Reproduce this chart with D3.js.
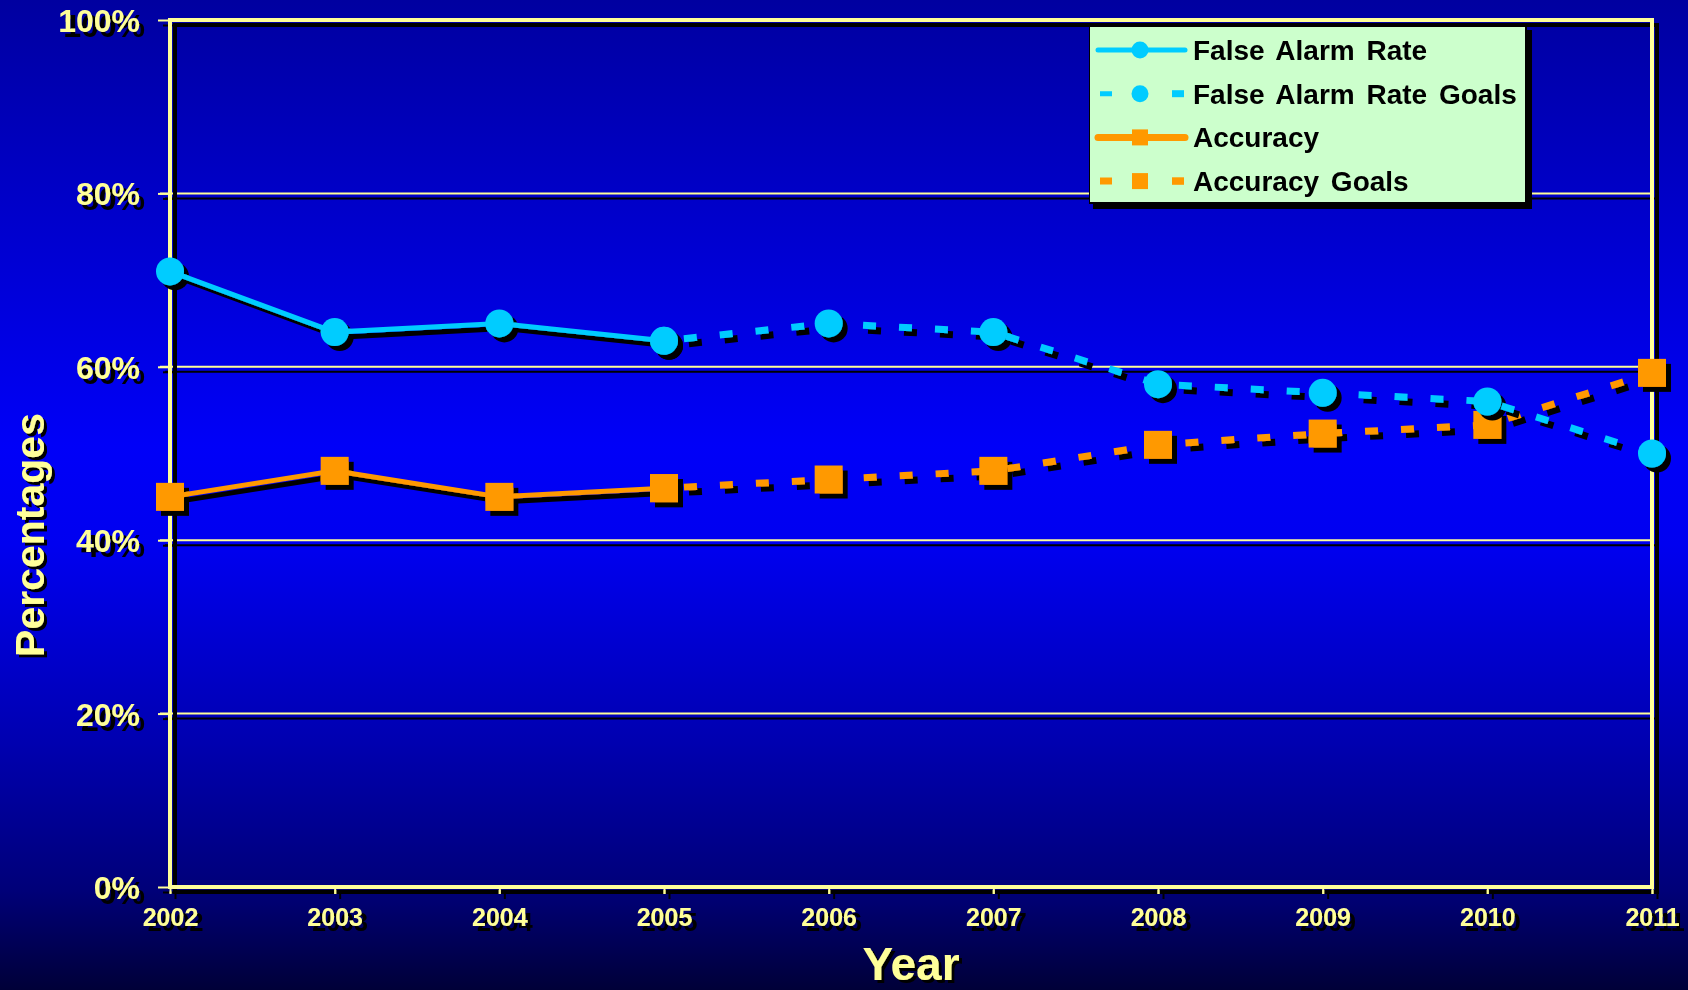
<!DOCTYPE html>
<html>
<head>
<meta charset="utf-8">
<script src="https://cdn.jsdelivr.net/npm/d3@7"></script>
<style>
  html, body { margin: 0; padding: 0; background: #000060; }
  svg { display: block; font-family: "Liberation Sans", Arial, sans-serif; font-weight: bold; }
</style>
</head>
<body>
<div id="chart"></div>
<script>
const years = [2002, 2003, 2004, 2005, 2006, 2007, 2008, 2009, 2010, 2011];
const yTicks = [0, 20, 40, 60, 80, 100];

const falseAlarmYears = [2002, 2003, 2004, 2005];
const falseAlarmRate = [71, 64, 65, 63];
const falseAlarmGoalYears = [2005, 2006, 2007, 2008, 2009, 2010, 2011];
const falseAlarmGoals = [63, 65, 64, 58, 57, 56, 50];

const accuracyYears = [2002, 2003, 2004, 2005];
const accuracy = [45, 48, 45, 46];
const accuracyGoalYears = [2005, 2006, 2007, 2008, 2009, 2010, 2011];
const accuracyGoals = [46, 47, 48, 51, 52.3, 53.3, 59.3];

const legendLabels = ["False Alarm Rate", "False Alarm Rate Goals", "Accuracy", "Accuracy Goals"];

const width = 1688;
const height = 990;
const margin = { top: 20, right: 36, bottom: 103, left: 170 };

const cyan = "#00ccff";
const orange = "#ff9900";
const yellow = "#ffff99";

const svg = d3.select("#chart")
    .append("svg")
    .attr("width", width)
    .attr("height", height)
    .attr("viewBox", `0 0 ${width} ${height}`);

const defs = svg.append("defs");

const bg = defs.append("linearGradient")
    .attr("id", "bg")
    .attr("x1", 0).attr("y1", 0).attr("x2", 0).attr("y2", 1);
[["0%", "#0000a0"], ["20%", "#0000c8"], ["45%", "#0000f8"], ["55%", "#0000f0"],
 ["75%", "#0000b0"], ["90%", "#000078"], ["100%", "#000038"]].forEach(s => {
  bg.append("stop").attr("offset", s[0]).attr("stop-color", s[1]);
});

function makeShadow(id, d){
  const f = defs.append("filter")
      .attr("id", id)
      .attr("filterUnits", "userSpaceOnUse")
      .attr("x", 0).attr("y", 0)
      .attr("width", width).attr("height", height);
  f.append("feDropShadow")
   .attr("dx", d).attr("dy", d)
   .attr("stdDeviation", 0)
   .attr("flood-color", "#000")
   .attr("flood-opacity", 1);
}
makeShadow("shadow-big", 5);
makeShadow("shadow-text", 3);

svg.append("rect")
   .attr("width", width)
   .attr("height", height)
   .attr("fill", "url(#bg)");

const x = d3.scaleLinear()
    .domain([2002, 2011])
    .range([margin.left, width - margin.right]);

const y = d3.scaleLinear()
    .domain([0, 100])
    .range([height - margin.bottom, margin.top]);

// grid lines
svg.append("g")
   .attr("filter", "url(#shadow-big)")
   .selectAll("line")
   .data(yTicks.filter(d => d > 0 && d < 100))
   .enter()
   .append("line")
   .attr("x1", x(2002) - 10)
   .attr("x2", x(2011))
   .attr("y1", d => y(d))
   .attr("y2", d => y(d))
   .attr("stroke", yellow)
   .attr("stroke-width", 2);

// frame (axes + top and right edge)
const frame = svg.append("g").attr("filter", "url(#shadow-big)");
frame.append("rect")
     .attr("x", x(2002))
     .attr("y", y(100))
     .attr("width", x(2011) - x(2002))
     .attr("height", y(0) - y(100))
     .attr("fill", "none")
     .attr("stroke", yellow)
     .attr("stroke-width", 4);

const xAxis = frame.append("g")
    .attr("transform", `translate(0,${y(0)})`)
    .call(d3.axisBottom(x).tickValues(years).tickFormat(d3.format("d")).tickSize(7).tickPadding(14));

const yAxis = frame.append("g")
    .attr("transform", `translate(${x(2002)},0)`)
    .call(d3.axisLeft(y).tickValues(yTicks).tickFormat(d => d + "%").tickSize(12).tickPadding(18));

[xAxis, yAxis].forEach(a => {
  a.select(".domain").remove();
  a.selectAll(".tick line").attr("stroke", yellow).attr("stroke-width", 2);
  a.selectAll(".tick text")
   .attr("fill", yellow)
   .attr("font-family", "Liberation Sans, Arial, sans-serif")
   .attr("font-weight", "bold");
});
xAxis.selectAll(".tick text").attr("font-size", 25);
yAxis.selectAll(".tick text").attr("font-size", 32).attr("dy", "0.36em");

// axis titles
const titles = svg.append("g").attr("filter", "url(#shadow-text)");
titles.append("text")
      .attr("x", 911)
      .attr("y", 980)
      .attr("text-anchor", "middle")
      .attr("font-size", 46)
      .attr("fill", yellow)
      .text("Year");
titles.append("text")
      .attr("transform", `translate(44,535) rotate(-90)`)
      .attr("text-anchor", "middle")
      .attr("font-size", 41)
      .attr("fill", yellow)
      .text("Percentages");

// series
const line = d3.line()
    .x(d => x(d[0]))
    .y(d => y(d[1]));

function drawSeries(xs, vals, colour, dashed, shape){
  const pts = xs.map((d, i) => [d, vals[i]]);
  const g = svg.append("g").attr("filter", "url(#shadow-big)");
  g.append("path")
   .datum(pts)
   .attr("d", line)
   .attr("fill", "none")
   .attr("stroke", colour)
   .attr("stroke-width", dashed ? 7 : 5)
   .attr("stroke-dasharray", dashed ? "13,23" : null)
   .attr("stroke-dashoffset", dashed ? -20 : null);
  if(shape === "circle"){
    g.selectAll("circle")
     .data(pts)
     .enter()
     .append("circle")
     .attr("cx", d => x(d[0]))
     .attr("cy", d => y(d[1]))
     .attr("r", 14)
     .attr("fill", colour);
  } else {
    g.selectAll("rect")
     .data(pts)
     .enter()
     .append("rect")
     .attr("x", d => x(d[0]) - 14)
     .attr("y", d => y(d[1]) - 14)
     .attr("width", 28)
     .attr("height", 28)
     .attr("fill", colour);
  }
}

drawSeries(accuracyGoalYears, accuracyGoals, orange, true, "square");
drawSeries(falseAlarmGoalYears, falseAlarmGoals, cyan, true, "circle");
drawSeries(accuracyYears, accuracy, orange, false, "square");
drawSeries(falseAlarmYears, falseAlarmRate, cyan, false, "circle");

// legend
const legend = svg.append("g").attr("transform", "translate(1089,26)");
legend.append("rect")
      .attr("width", 437)
      .attr("height", 177)
      .attr("fill", "#ccffcc")
      .attr("stroke", "#000")
      .attr("stroke-width", 2)
      .attr("filter", "url(#shadow-big)");

const legendItems = [
  { colour: cyan, dashed: false, shape: "circle" },
  { colour: cyan, dashed: true, shape: "circle" },
  { colour: orange, dashed: false, shape: "square" },
  { colour: orange, dashed: true, shape: "square" }
];

const rows = legend.selectAll(".legend-row")
    .data(legendItems)
    .enter()
    .append("g")
    .attr("class", "legend-row")
    .attr("transform", (d, i) => `translate(0, ${24 + i * 43.7})`);

rows.append("line")
    .attr("x1", 9)
    .attr("x2", 96)
    .attr("stroke", d => d.colour)
    .attr("stroke-width", d => d.shape === "square" ? 7 : 5)
    .attr("stroke-linecap", d => d.dashed ? "butt" : "round")
    .attr("stroke-dasharray", d => d.dashed ? "12,60" : null)
    .attr("stroke-dashoffset", d => d.dashed ? -2 : null);
rows.filter(d => d.dashed)
    .append("line")
    .attr("x1", 83)
    .attr("x2", 95)
    .attr("stroke", d => d.colour)
    .attr("stroke-width", 7);

rows.filter(d => d.shape === "circle")
    .append("circle")
    .attr("cx", 51)
    .attr("r", 8.5)
    .attr("fill", d => d.colour);
rows.filter(d => d.shape === "square")
    .append("rect")
    .attr("x", 43)
    .attr("y", -8)
    .attr("width", 16)
    .attr("height", 16)
    .attr("fill", d => d.colour);

rows.append("text")
    .attr("x", 104)
    .attr("dy", "0.36em")
    .attr("font-size", 28)
    .attr("word-spacing", 4)
    .attr("fill", "#000")
    .text((d, i) => legendLabels[i]);
</script>
</body>
</html>
